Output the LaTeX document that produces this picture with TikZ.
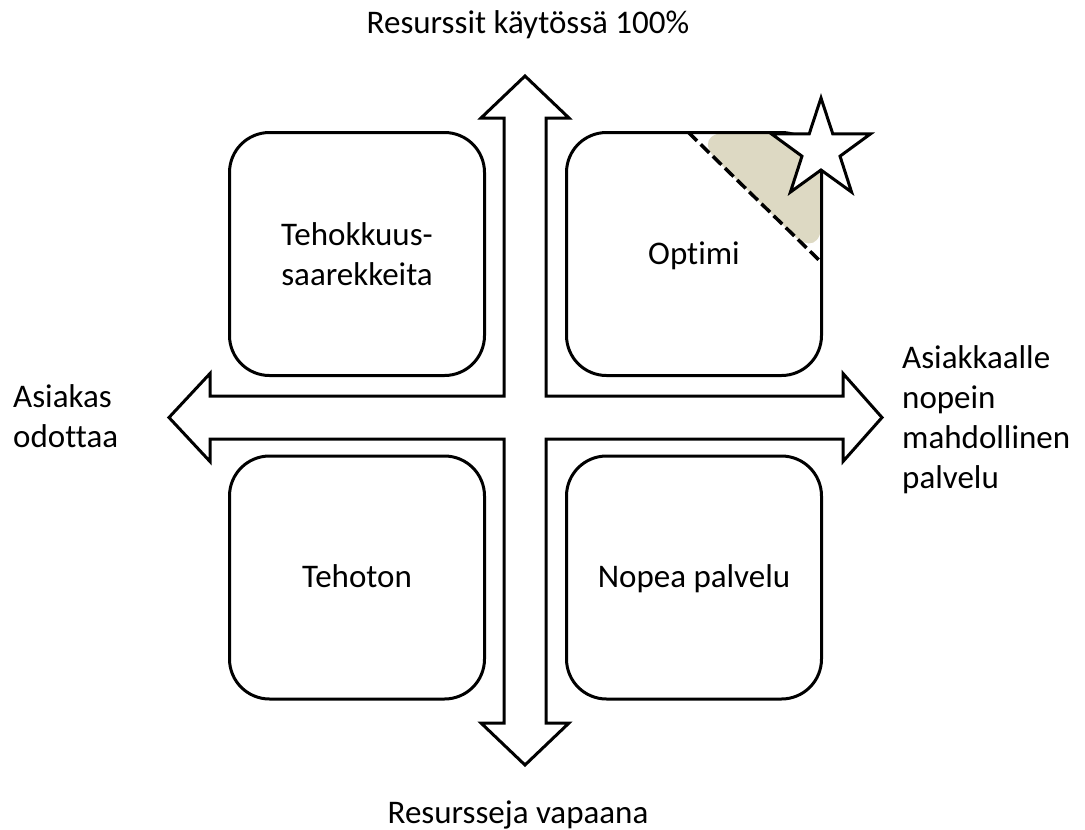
\documentclass[tikz,border=0pt]{standalone}
\usepackage{fontspec}
\setmainfont{Carlito}[Ligatures=NoCommon]
\usetikzlibrary{shapes.geometric}
\definecolor{sand}{HTML}{DDD9C3}
\begin{document}
\begin{tikzpicture}[x=1pt, y=-1pt,
  every node/.style={font=\fontsize{33}{40}\selectfont, inner sep=0pt},
  quadrant/.style={draw, line width=3pt, fill=white, rounded corners=40pt,
    minimum width=255pt, minimum height=243pt, align=center},
  oneline/.style={text height=20pt, text depth=0pt},
  outline/.style={draw, line width=3pt, line join=miter}]
\useasboundingbox (0,0) rectangle (1085,830);

% four-way arrow as one outline
\path[outline]
  (525,76) -- (569,118) -- (546,118) -- (546,396) -- (843,396) -- (843,373.5)
  -- (882,417.5) -- (843,461.5) -- (843,439) -- (546,439) -- (546,723)
  -- (569,723) -- (525,765) -- (481,723) -- (504,723) -- (504,439)
  -- (210,439) -- (210,461.5) -- (169,417.5) -- (210,373.5) -- (210,396)
  -- (504,396) -- (504,118) -- (481,118) -- cycle;

% quadrants
\node[quadrant] (tl) at (357,254) {Tehokkuus-\\saarekkeita};
\node[quadrant, oneline,
  path picture={
    \fill[sand] ([xshift=-133pt]path picture bounding box.north east)
      -- (path picture bounding box.north east)
      -- ([yshift=-130pt]path picture bounding box.north east) -- cycle;
    \draw[line width=3.5pt, dash pattern=on 12pt off 5pt]
      ([xshift=-133pt]path picture bounding box.north east)
      -- ([yshift=-130pt]path picture bounding box.north east);
  }] (tr) at (694,254) {Optimi};
\node[quadrant, oneline] (bl) at (357,577.5) {Tehoton};
\node[quadrant, oneline] (br) at (694,577.5) {Nopea palvelu};

% star on the optimum corner
\node[star, star points=5, star point ratio=2.6, minimum size=104pt,
  draw, fill=white, line width=3pt] (star) at (821,150) {};

% axis labels
\node[anchor=base] (up) at (528,33) {Resurssit käytössä 100\%};
\node[anchor=base] (down) at (518,823) {Resursseja vapaana};
\node[anchor=west, align=left] (left) at (13,416) {Asiakas\\odottaa};
\node[anchor=west, align=left] (right) at (902,420) {Asiakkaalle\\nopein\\mahdollinen\\palvelu};
\end{tikzpicture}
\end{document}
